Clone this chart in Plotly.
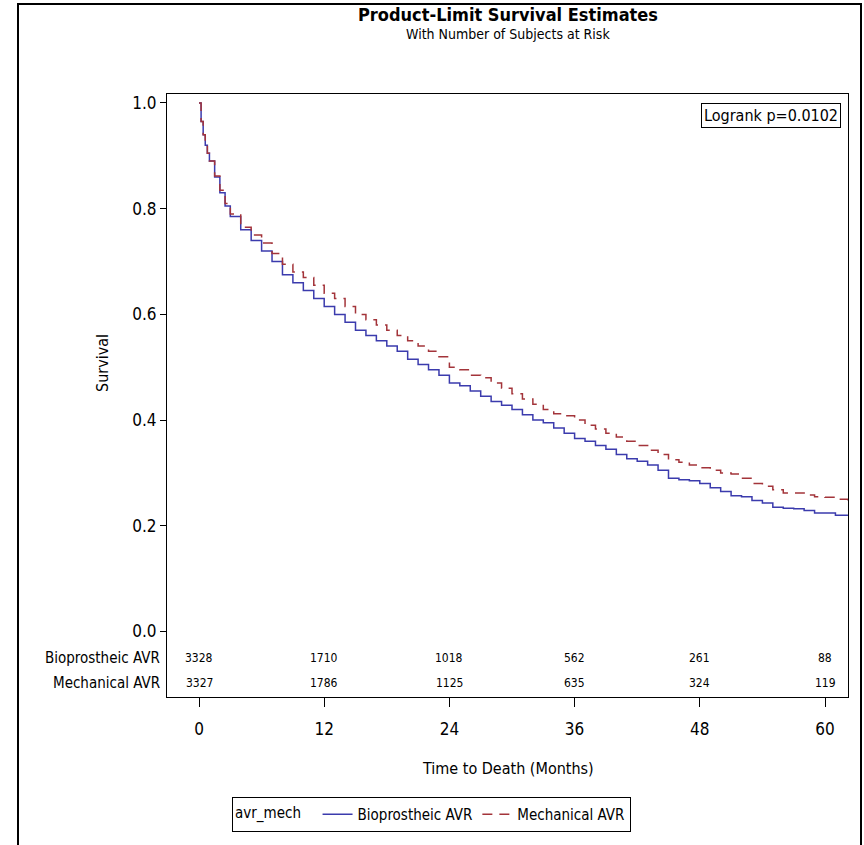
import plotly.graph_objects as go

# ---------------- data ----------------
bio_months = [0, 0.2, 0.4, 0.6, 0.8, 1, 1.5, 2, 2.5, 3, 4, 5, 6, 7, 8, 9, 10, 11, 12, 13, 14, 15, 16, 17,
              18, 19, 20, 21, 22, 23, 24, 25, 26, 27, 28, 29, 30, 31, 32, 33, 34, 35, 36, 37, 38, 39, 40,
              41, 42, 43, 44, 45, 46, 47, 48, 49, 50, 51, 52, 53, 54, 55, 56, 57, 58, 59, 60, 61, 62.2]
bio_surv = [1.0, 0.965, 0.94, 0.92, 0.905, 0.89, 0.86, 0.83, 0.805, 0.785, 0.76, 0.74, 0.72, 0.70, 0.675,
            0.66, 0.645, 0.63, 0.615, 0.60, 0.585, 0.57, 0.56, 0.55, 0.54, 0.53, 0.515, 0.505, 0.495, 0.485,
            0.47, 0.465, 0.455, 0.445, 0.435, 0.428, 0.42, 0.41, 0.40, 0.395, 0.385, 0.375, 0.365, 0.36,
            0.352, 0.345, 0.335, 0.327, 0.322, 0.315, 0.305, 0.29, 0.287, 0.285, 0.28, 0.272, 0.265, 0.257,
            0.255, 0.248, 0.243, 0.235, 0.233, 0.232, 0.229, 0.224, 0.224, 0.22, 0.22]

mech_months = bio_months
mech_surv = [1.0, 0.965, 0.94, 0.92, 0.905, 0.89, 0.862, 0.835, 0.81, 0.79, 0.765, 0.75, 0.735, 0.715,
             0.695, 0.68, 0.67, 0.655, 0.64, 0.63, 0.615, 0.60, 0.59, 0.58, 0.57, 0.56, 0.55, 0.54, 0.53,
             0.52, 0.50, 0.495, 0.485, 0.48, 0.47, 0.46, 0.45, 0.44, 0.43, 0.42, 0.412, 0.408, 0.40, 0.39,
             0.383, 0.375, 0.368, 0.36, 0.352, 0.343, 0.335, 0.325, 0.32, 0.315, 0.31, 0.305, 0.30, 0.298,
             0.29, 0.28, 0.275, 0.268, 0.262, 0.262, 0.258, 0.255, 0.254, 0.25, 0.248]

risk_times = [0, 12, 24, 36, 48, 60]
risk_bio = [3328, 1710, 1018, 562, 261, 88]
risk_mech = [3327, 1786, 1125, 635, 324, 119]
group_names = ["Bioprostheic AVR", "Mechanical AVR"]
y_ticks = [0.0, 0.2, 0.4, 0.6, 0.8, 1.0]

# ---------------- style ----------------
W, H = 864, 845
FONT = "Liberation Sans Narrow, Arial Narrow, DejaVu Sans Condensed, sans-serif"
BLUE = "#3B3BAD"
RED = "#A3343A"

px0, px1 = 167, 848      # plot box left/right (px)
py0, py1 = 94, 697       # plot box top/bottom (px)
y_top_val = 1.017
y_bot_val = -0.124

fig = go.Figure()
fig.add_trace(go.Scatter(x=bio_months, y=bio_surv, mode="lines", line_shape="hv",
                         name=group_names[0], line=dict(color=BLUE, width=1.5)))
fig.add_trace(go.Scatter(x=mech_months, y=mech_surv, mode="lines", line_shape="hv",
                         name=group_names[1], line=dict(color=RED, width=1.5, dash="10px,7px")))

annotations = []
# at-risk table
for rows, yv in ((risk_bio, -0.050), (risk_mech, -0.0975)):
    for t, n in zip(risk_times, rows):
        annotations.append(dict(x=t, y=yv, xref="x", yref="y", text=str(n), showarrow=False,
                                xanchor="center", yanchor="middle",
                                font=dict(family=FONT, size=12, color="black")))
for name, yv in zip(group_names, (-0.050, -0.0975)):
    annotations.append(dict(x=0, y=yv, xref="x domain", yref="y", text=name, showarrow=False,
                            xanchor="right", yanchor="middle", xshift=-5,
                            font=dict(family=FONT, size=15, color="black")))

cx = (px0 + px1) / 2 / W
# titles
annotations.append(dict(x=cx, y=1 - 15 / H, xref="paper", yref="paper",
                        text="<b>Product-Limit Survival Estimates</b>", showarrow=False,
                        xanchor="center", yanchor="middle",
                        font=dict(family=FONT, size=18, color="black")))
annotations.append(dict(x=cx, y=1 - 34 / H, xref="paper", yref="paper",
                        text="With Number of Subjects at Risk", showarrow=False,
                        xanchor="center", yanchor="middle",
                        font=dict(family=FONT, size=14, color="black")))
annotations.append(dict(x=102 / W, y=1 - 363 / H, xref="paper", yref="paper", text="Survival",
                        textangle=-90, showarrow=False, xanchor="center", yanchor="middle",
                        font=dict(family=FONT, size=16, color="black")))
annotations.append(dict(x=cx, y=1 - 768 / H, xref="paper", yref="paper",
                        text="Time to Death (Months)", showarrow=False,
                        xanchor="center", yanchor="middle",
                        font=dict(family=FONT, size=16, color="black")))
annotations.append(dict(x=841 / W, y=1 - 103 / H, xref="paper", yref="paper", xanchor="right",
                        yanchor="top", text="Logrank p=0.0102", showarrow=False,
                        bordercolor="black", borderwidth=1, borderpad=2,
                        font=dict(family=FONT, size=16, color="black")))

shapes = [dict(type="rect", xref="paper", yref="paper", x0=18 / W, x1=861 / W, y0=-0.05, y1=1 - 4 / H,
               line=dict(color="black", width=2))]

x_per = (825 - 199) / 60.0
x_lo = (px0 - 199) / x_per
x_hi = (px1 - 199) / x_per

fig.update_layout(
    width=W, height=H,
    margin=dict(l=0, r=0, t=0, b=0),
    paper_bgcolor="white", plot_bgcolor="white",
    font=dict(family=FONT, color="black"),
    showlegend=True,
    legend=dict(orientation="h", x=232 / W, y=1 - 797 / H, xanchor="left", yanchor="top",
                bordercolor="black", borderwidth=1, bgcolor="white",
                title=dict(text="avr_mech  ", font=dict(family=FONT, size=15)),
                font=dict(family=FONT, size=15), itemwidth=30, tracegroupgap=0),
    xaxis=dict(domain=[px0 / W, px1 / W], range=[x_lo, x_hi], tickvals=risk_times,
               ticks="outside", ticklen=9, tickcolor="black", showgrid=False, zeroline=False,
               showline=True, linecolor="black", linewidth=1, mirror=True,
               tickfont=dict(family=FONT, size=17), ticklabelstandoff=8),
    yaxis=dict(domain=[1 - py1 / H, 1 - py0 / H], range=[y_bot_val, y_top_val], tickvals=y_ticks,
               tickformat=".1f", ticks="outside", ticklen=6, tickcolor="black", showgrid=False,
               zeroline=False, showline=True, linecolor="black", linewidth=1, mirror=True,
               tickfont=dict(family=FONT, size=17)),
    annotations=annotations,
    shapes=shapes,
)

fig.write_html("out.html")
